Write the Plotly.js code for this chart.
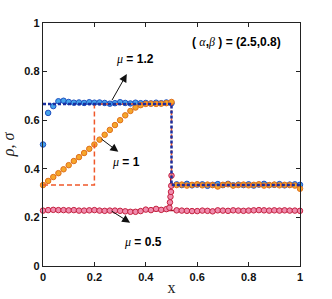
<!DOCTYPE html>
<html>
<head>
<meta charset="utf-8">
<script src="https://cdn.plot.ly/plotly-3.0.1.min.js"></script>
<style>html,body{margin:0;padding:0;background:#fff;}#chart{width:332px;height:299px;}</style>
</head>
<body>
<div id="chart"></div>
<script>
// ---- data ----
const xGrid = [0,0.02,0.04,0.06,0.08,0.10,0.12,0.14,0.16,0.18,0.20,0.22,0.24,0.26,0.28,0.30,0.32,0.34,0.36,0.38,0.40,0.42,0.44,0.46,0.48,0.50,
               0.52,0.54,0.56,0.58,0.60,0.62,0.64,0.66,0.68,0.70,0.72,0.74,0.76,0.78,0.80,0.82,0.84,0.86,0.88,0.90,0.92,0.94,0.96,0.98,1.00];

// mu = 1.2 (blue markers)
const rhoMu12 = [0.500,0.630,0.658,0.678,0.680,0.675,0.672,0.673,0.671,0.674,0.672,0.673,0.671,0.668,0.670,0.674,0.671,0.669,0.672,0.670,0.671,0.669,0.672,0.670,0.673,0.670,
                 0.336,0.333,0.338,0.332,0.335,0.336,0.330,0.334,0.337,0.333,0.338,0.332,0.335,0.333,0.336,0.331,0.335,0.338,0.333,0.334,0.337,0.332,0.335,0.336,0.334];

// mu = 1 (orange markers)
const rhoMu1 = [0.333,0.350,0.366,0.382,0.398,0.415,0.432,0.448,0.465,0.482,0.500,0.520,0.540,0.560,0.580,0.600,0.620,0.638,0.652,0.662,0.667,0.668,0.667,0.668,0.670,0.675,
                0.333,0.335,0.331,0.334,0.336,0.332,0.335,0.333,0.327,0.334,0.336,0.331,0.333,0.335,0.332,0.334,0.336,0.331,0.333,0.335,0.332,0.334,0.333,0.331,0.318];

// mu = 0.5 (pink markers), with the little jump right at the shock
const xMu05 = [0,0.02,0.04,0.06,0.08,0.10,0.12,0.14,0.16,0.18,0.20,0.22,0.24,0.26,0.28,0.30,0.32,0.34,0.36,0.38,0.40,0.42,0.44,0.46,0.48,
               0.492,0.494,0.496,0.498,0.499,0.500,
               0.52,0.54,0.56,0.58,0.60,0.62,0.64,0.66,0.68,0.70,0.72,0.74,0.76,0.78,0.80,0.82,0.84,0.86,0.88,0.90,0.92,0.94,0.96,0.98,1.00];
const rhoMu05 = [0.228,0.230,0.231,0.230,0.230,0.229,0.230,0.228,0.228,0.229,0.230,0.228,0.227,0.228,0.228,0.227,0.225,0.223,0.223,0.226,0.232,0.230,0.235,0.231,0.234,
                 0.240,0.262,0.285,0.305,0.330,0.372,
                 0.229,0.228,0.227,0.226,0.226,0.228,0.227,0.225,0.229,0.228,0.227,0.229,0.228,0.227,0.228,0.229,0.230,0.229,0.228,0.229,0.228,0.229,0.228,0.228,0.227];

// reference (theory) curves
const xTheoryBlue = [0, 0.5, 0.5, 1];
const yTheoryBlue = [0.667, 0.667, 0.333, 0.333];
const xTheoryOrange = [0, 0.2, 0.2, 0.5, 0.5, 1];
const yTheoryOrange = [0.333, 0.333, 0.667, 0.667, 0.333, 0.333];
const xTheoryRed = [0, 0.497, 0.497, 0.497, 1];
const yTheoryRed = [0.228, 0.228, 0.37, 0.228, 0.228];

const xTicks = [0, 0.2, 0.4, 0.6, 0.8, 1];
const xTickText = ['0', '0.2', '0.4', '0.6', '0.8', '1'];
const yTicks = [0, 0.2, 0.4, 0.6, 0.8, 1];
const yTickText = ['0', '0.2', '0.4', '0.6', '0.8', '1'];

// ---- traces ----
const traces = [
  {x: xTheoryRed, y: yTheoryRed, mode: 'lines', line: {color: '#a8102a', width: 1.5}, hoverinfo: 'skip'},
  {x: xMu05, y: rhoMu05, mode: 'markers', cliponaxis: false, marker: {size: 5.5, color: '#f08cae', line: {color: '#c4203f', width: 1}}},
  {x: xGrid, y: rhoMu12, mode: 'markers', cliponaxis: false, marker: {size: 5.5, color: '#45a4ec', line: {color: '#1f50c0', width: 1}}},
  {x: xGrid, y: rhoMu1, mode: 'markers', cliponaxis: false, marker: {size: 5.5, color: '#f6a62a', line: {color: '#e0701c', width: 1}}},
  {x: xTheoryOrange, y: yTheoryOrange, mode: 'lines', line: {color: '#f0582a', width: 1.5, dash: '5px,3px'}},
  {x: xTheoryBlue, y: yTheoryBlue, mode: 'lines', line: {color: '#1a2fa0', width: 2.5, dash: '3px,2px'}}
];

const boldF = {family: 'Liberation Sans, Arial, sans-serif', size: 11, color: '#111'};
const annF = {family: 'Liberation Sans, Arial, sans-serif', size: 12, color: '#000'};
const serifI = "<span style=\"font-family:'Liberation Serif',serif;font-weight:normal\"><i>";
const serifEnd = "</i></span>";

function arrow(xh, yh, xt, yt) {
  return {x: xh, y: yh, ax: xt, ay: yt, xref: 'x', yref: 'y', axref: 'x', ayref: 'y',
          text: '', showarrow: true, arrowhead: 2, arrowsize: 1.6, arrowwidth: 1, arrowcolor: '#111', standoff: 0, startstandoff: 0};
}

const layout = {
  width: 332, height: 299,
  margin: {l: 43, r: 32, t: 23, b: 33},
  paper_bgcolor: '#fff', plot_bgcolor: '#fff',
  showlegend: false,
  font: boldF,
  xaxis: {
    range: [0, 1], tickvals: xTicks, ticktext: xTickText.map(t => '<b>' + t + '</b>'),
    ticks: 'inside', ticklen: 4, tickwidth: 1, tickcolor: '#222',
    showline: true, linecolor: '#222', linewidth: 1.3, mirror: 'allticks',
    showgrid: false, zeroline: false, tickfont: boldF,
    title: {text: 'x', font: {family: 'Liberation Serif, serif', size: 16, color: '#222'}, standoff: 0}
  },
  yaxis: {
    range: [0, 1], tickvals: yTicks, ticktext: yTickText.map(t => '<b>' + t + '</b>'),
    ticks: 'inside', ticklen: 4, tickwidth: 1, tickcolor: '#222',
    showline: true, linecolor: '#222', linewidth: 1.3, mirror: 'allticks',
    showgrid: false, zeroline: false, tickfont: boldF,
    title: {text: '<i>ρ</i>, <i>σ</i>', font: {family: 'Liberation Serif, serif', size: 16, color: '#222'}, standoff: 6}
  },
  annotations: [
    arrow(0.326, 0.79, 0.265, 0.676),
    arrow(0.293, 0.470, 0.222, 0.527),
    arrow(0.339, 0.178, 0.261, 0.230),
    {x: 0.358, y: 0.852, xref: 'x', yref: 'y', showarrow: false, font: annF,
     text: serifI + 'μ' + serifEnd + '<b> = 1.2</b>'},
    {x: 0.323, y: 0.428, xref: 'x', yref: 'y', showarrow: false, font: annF,
     text: serifI + 'μ' + serifEnd + '<b> = 1</b>'},
    {x: 0.389, y: 0.099, xref: 'x', yref: 'y', showarrow: false, font: annF,
     text: serifI + 'μ' + serifEnd + '<b> = 0.5</b>'},
    {x: 0.751, y: 0.922, xref: 'x', yref: 'y', showarrow: false, font: annF,
     text: '<b>( </b>' + serifI + 'α' + serifEnd + '<b>,</b>' + serifI + 'β' + serifEnd + '<b> ) = (2.5,0.8)</b>'}
  ]
};

Plotly.newPlot('chart', traces, layout, {displayModeBar: false, staticPlot: true});
</script>
</body>
</html>
